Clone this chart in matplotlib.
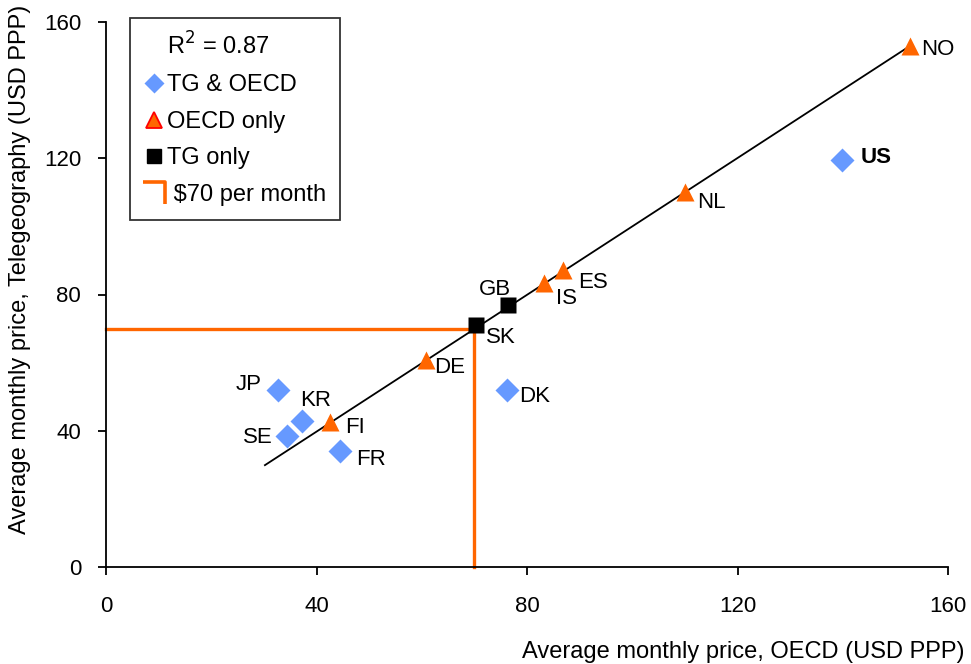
import matplotlib
matplotlib.use("Agg")
import matplotlib.pyplot as plt
from matplotlib.lines import Line2D
from matplotlib.path import Path

plt.rcParams['font.family'] = ['Liberation Sans', 'DejaVu Sans']

# TG & OECD (diamonds)
both_names = ['US', 'DK', 'JP', 'KR', 'SE', 'FR']
both_x = [139.9, 76.2, 32.7, 37.2, 34.4, 44.5]
both_y = [119.5, 52.0, 52.0, 42.9, 38.5, 34.1]

# OECD only (triangles)
oecd_names = ['NO', 'NL', 'ES', 'IS', 'DE', 'FI']
oecd_x = [152.8, 110.0, 86.8, 83.2, 60.8, 42.6]
oecd_y = [153.0, 110.1, 87.2, 83.4, 60.8, 42.6]

# TG only (squares)
tg_names = ['GB', 'SK']
tg_x = [76.4, 70.3]
tg_y = [76.9, 71.0]

# trend line
fit_x = [30.2, 152.8]
fit_y = [29.9, 153.0]

price_ref = 70
r2 = 0.87

# label offsets in pixels (dx, dy, ha)
offsets = {
    'NO': (11, -4, 'left'), 'US': (18, 2, 'left'), 'NL': (12, -11, 'left'),
    'ES': (15, -13, 'left'), 'IS': (12, -16, 'left'), 'GB': (-13, 16, 'center'),
    'SK': (10, -12, 'left'), 'DE': (8, -8, 'left'), 'DK': (12, -7, 'left'),
    'JP': (-16, 5, 'right'), 'KR': (-2, 20, 'left'), 'SE': (-14, -2, 'right'),
    'FI': (15, -6, 'left'), 'FR': (16, -9, 'left'),
}

blue = '#6699FF'
orange = '#FF6600'

fig = plt.figure(figsize=(9.71, 6.64), dpi=100)
ax = fig.add_axes([106/971, 97/664, 842/971, 545/664])

ax.plot(fit_x, fit_y, color='black', lw=1.3, zorder=2)
ax.plot([0, price_ref, price_ref], [price_ref, price_ref, 0], color=orange, lw=2.4,
        zorder=1, clip_on=False)

ax.plot(both_x, both_y, 'D', color=blue, ms=12, mec='none', zorder=3)
ax.plot(oecd_x, oecd_y, '^', color=orange, ms=13, mec='none', zorder=3)
ax.plot(tg_x, tg_y, 's', color='black', ms=11.5, mec='none', zorder=3)

for names, xs, ys in [(both_names, both_x, both_y), (oecd_names, oecd_x, oecd_y),
                      (tg_names, tg_x, tg_y)]:
    for n, x, y in zip(names, xs, ys):
        dx, dy, ha = offsets[n]
        ax.annotate(n, (x, y), xytext=(dx, dy), textcoords='offset pixels',
                    ha=ha, va='center', fontsize=16,
                    fontweight='bold' if n == 'US' else 'normal')

ax.set_xlim(0, 160)
ax.set_ylim(0, 160)
ax.set_xticks([0, 40, 80, 120, 160])
ax.set_yticks([0, 40, 80, 120, 160])
ax.tick_params(labelsize=16, length=6, width=1.3, direction='out')
ax.tick_params(axis='x', pad=15)
ax.tick_params(axis='y', pad=12)
ax.spines['top'].set_visible(False)
ax.spines['right'].set_visible(False)
for s in ['left', 'bottom']:
    ax.spines[s].set_linewidth(1.3)

ax.set_xlabel('Average monthly price, OECD (USD PPP)', fontsize=17)
ax.xaxis.set_label_coords(1.02, -0.135)
ax.xaxis.label.set_ha('right')
fig.text(20/971, 1 - 5/664, 'Average monthly price, Telegeography (USD PPP)',
         rotation=90, ha='center', va='top', fontsize=17)

corner = Path([(-1, 1), (1, 1), (1, -1)], [Path.MOVETO, Path.LINETO, Path.LINETO])
handles = [
    Line2D([], [], ls='none', marker='none'),
    Line2D([], [], ls='none', marker='D', color=blue, ms=10, mec='none'),
    Line2D([], [], ls='none', marker='^', mfc=orange, mec='red', ms=11, mew=1.3),
    Line2D([], [], ls='none', marker='s', color='black', ms=10),
    Line2D([], [], ls='none', marker=corner, mfc='none', mec=orange, ms=16, mew=2.6),
]
labels = ['R$^2$ = %.2f' % r2, 'TG & OECD', 'OECD only', 'TG only', ' $70 per month']
leg = ax.legend(handles, labels, loc='upper left', bbox_to_anchor=(0.0285, 1.007),
                fontsize=17, frameon=True, fancybox=False, edgecolor='black',
                handlelength=0.8, handletextpad=0.15, labelspacing=0.62,
                borderpad=0.6, borderaxespad=0)
leg.get_frame().set_linewidth(1.3)

plt.savefig('out.png', dpi=100)
